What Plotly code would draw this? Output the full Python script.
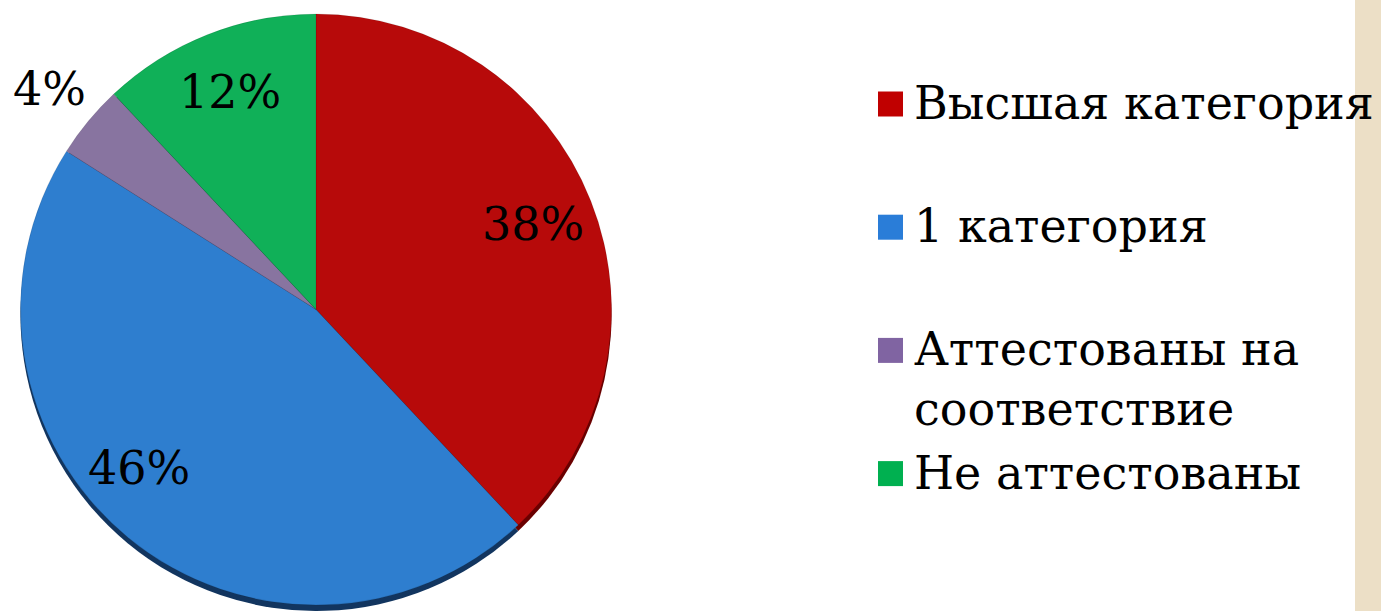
import math
import plotly.graph_objects as go

categories = ["Высшая категория", "1 категория", "Аттестованы на<br>соответствие", "Не аттестованы"]
shares = [38, 46, 4, 12]
colors = ["#B70A0A", "#2E7ECF", "#8874A0", "#10B058"]
shadow_colors = ["#6A0000", "#12355F", "#4A3D5E", "#0A5E30"]
legend_colors = ["#C00000", "#2A7DD8", "#8064A2", "#00B050"]
label_radius = [0.79, 0.805, 1.17, 0.79]
label_angle_shift = [0, 8.5, 0, 0]   # degrees, label placement nudge

W, H = 1381, 611
FONT = "DejaVu Serif"
FS = 46

# pie geometry (pixels)
PX0, PX1 = 10, 622
PY_TOP, PY_BOT = 14, 605
DEPTH = 6

fig = go.Figure()
# 3D depth (shadow) under the pie
fig.add_trace(go.Pie(
    labels=[c.replace("<br>", " ") for c in categories], values=shares,
    sort=False, direction="clockwise", rotation=0,
    marker=dict(colors=shadow_colors, line=dict(width=0)),
    textinfo="none", showlegend=False, hoverinfo="skip",
    domain=dict(x=[PX0 / W, PX1 / W], y=[1 - (PY_BOT + DEPTH) / H, 1 - (PY_TOP + DEPTH) / H]),
))
fig.add_trace(go.Pie(
    labels=[c.replace("<br>", " ") for c in categories], values=shares,
    sort=False, direction="clockwise", rotation=0,
    marker=dict(colors=colors, line=dict(color="rgba(0,0,0,0.2)", width=0.5)),
    textinfo="none", showlegend=False, hoverinfo="label+percent",
    domain=dict(x=[PX0 / W, PX1 / W], y=[1 - PY_BOT / H, 1 - PY_TOP / H]),
))

# percentage labels placed at slice mid-angles
cx = (PX0 + PX1) / 2
cy = (PY_TOP + PY_BOT) / 2
r = (PY_BOT - PY_TOP) / 2
total = sum(shares)
cum = 0
for v, k, sh in zip(shares, label_radius, label_angle_shift):
    mid = (cum + v / 2) / total * 2 * math.pi + math.radians(sh)
    cum += v
    lx = cx + k * r * math.sin(mid)
    ly = cy - k * r * math.cos(mid)
    fig.add_annotation(text=f"{v}%", xref="paper", yref="paper",
                       x=lx / W, y=1 - ly / H, xanchor="center", yanchor="middle",
                       showarrow=False, font=dict(family=FONT, size=FS, color="black"))

# legend
leg_x_box0, leg_x_box1 = 878, 903
leg_x_text = 912
leg_y0, leg_step = 104, 123.2
for i, (cat, col) in enumerate(zip(categories, legend_colors)):
    yc = leg_y0 + i * leg_step
    fig.add_shape(type="rect", xref="paper", yref="paper",
                  x0=leg_x_box0 / W, x1=leg_x_box1 / W,
                  y0=1 - (yc + 12.5) / H, y1=1 - (yc - 12.5) / H,
                  fillcolor=col, line=dict(width=0))
    fig.add_annotation(text=cat, xref="paper", yref="paper",
                       x=leg_x_text / W, y=1 - (yc - 30) / H,
                       xanchor="left", yanchor="top", align="left",
                       showarrow=False,
                       font=dict(family=FONT, size=FS, color="black"))

# textured strip at right edge
fig.add_shape(type="rect", xref="paper", yref="paper",
              x0=1355 / W, x1=1.0, y0=0, y1=1,
              fillcolor="#ECDFC6", line=dict(width=0), layer="below")

fig.update_layout(
    width=W, height=H,
    margin=dict(l=0, r=0, t=0, b=0),
    paper_bgcolor="white",
    plot_bgcolor="white",
    font=dict(family=FONT),
)

fig.write_html("out.html",
               config={"displayModeBar": False},
               post_script="document.body.style.margin='0';document.body.style.overflow='hidden';")
